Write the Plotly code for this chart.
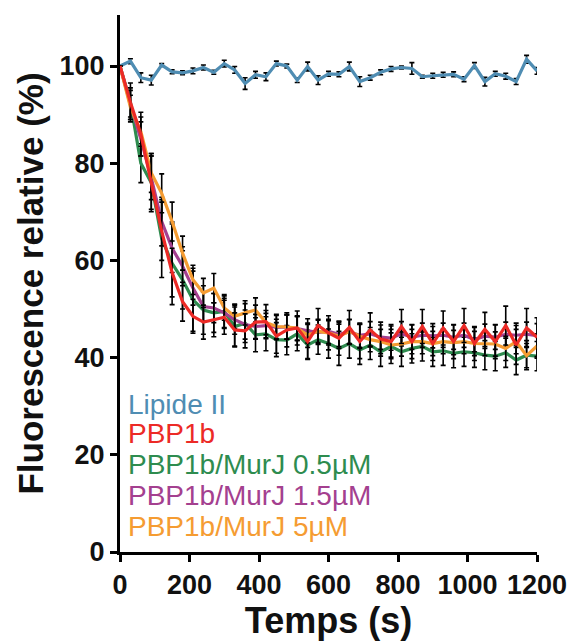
import plotly.graph_objects as go

# Time points (s)
temps = list(range(0, 1201, 30))

# Relative fluorescence (%) per condition
lipide_ii = [100.0, 101.0, 97.6, 97.1, 100.2, 98.8, 98.6, 99.0, 99.7, 98.7,
             100.5, 99.2, 96.4, 98.2, 97.8, 100.5, 100.0, 97.1, 99.9, 97.1,
             98.4, 98.3, 99.9, 96.8, 97.6, 98.7, 99.4, 99.7, 99.5, 97.8,
             98.0, 98.2, 98.3, 97.3, 100.1, 96.8, 98.4, 97.9, 96.8, 101.4, 99.0]
lipide_ii_err = [0, 0.5, 1.0, 1.0, 0.3, 0.4, 0.4, 0.6, 0.5, 0.4,
                 0.7, 0.7, 1.2, 0.7, 0.8, 0.5, 0.4, 0.5, 0.9, 0.9,
                 0.5, 0.5, 0.9, 1.0, 0.5, 0.5, 0.5, 0.3, 1.2, 0.3,
                 0.5, 0.5, 0.5, 0.5, 0.6, 0.9, 0.5, 0.6, 0.6, 0.8, 0.7]

pbp1b = [100.0, 92.5, 86.0, 76.0, 66.0, 57.5, 51.5, 48.5, 47.3, 47.8,
         48.3, 45.7, 45.5, 47.3, 47.4, 44.4, 45.7, 46.1, 43.3, 46.6,
         45.1, 44.0, 46.2, 43.3, 45.7, 43.8, 43.3, 46.4, 43.3, 46.4,
         42.9, 46.1, 43.3, 46.6, 42.9, 45.8, 43.3, 46.6, 42.6, 46.1, 44.2]
pbp1b_err = [0, 4.0, 4.5, 6.0, 6.0, 5.0, 4.0, 3.5, 3.5, 3.5,
             3.5, 3.5, 3.5, 3.5, 3.5, 3.5, 3.5, 3.5, 3.5, 3.5,
             3.5, 3.5, 3.5, 3.5, 3.5, 3.5, 3.5, 3.5, 3.5, 3.5,
             3.5, 3.5, 3.5, 3.5, 3.5, 3.5, 3.5, 4.0, 4.0, 4.0, 4.0]

murj_05 = [100.0, 92.5, 80.0, 76.0, 64.5, 59.4, 56.0, 51.9, 49.8, 49.2,
           49.5, 46.4, 47.1, 44.7, 44.9, 43.7, 43.6, 44.9, 42.6, 43.7,
           42.9, 41.9, 42.9, 41.6, 42.6, 41.2, 42.3, 41.2, 41.9, 42.3,
           41.2, 41.4, 40.9, 41.2, 41.0, 40.5, 40.3, 41.0, 39.5, 40.5, 40.3]
murj_05_err = [0, 3.0, 4.0, 5.5, 8.0, 8.5, 6.0, 6.5, 5.0, 4.0,
               3.5, 4.0, 4.0, 3.5, 3.5, 3.5, 3.0, 3.5, 3.0, 3.0,
               3.0, 3.5, 3.0, 3.0, 3.0, 3.0, 3.5, 3.0, 3.0, 3.0,
               3.0, 3.0, 3.0, 3.0, 3.0, 3.0, 3.0, 3.0, 3.0, 3.0, 3.0]

murj_15 = [100.0, 92.0, 85.0, 77.0, 68.0, 62.5, 58.8, 54.3, 50.5, 50.2,
           49.2, 47.8, 46.8, 46.4, 46.6, 46.2, 46.3, 46.0, 45.5, 45.2,
           45.4, 44.8, 45.3, 44.6, 44.9, 44.2, 44.0, 44.9, 44.2, 44.6,
           44.5, 44.6, 44.2, 44.6, 43.7, 44.4, 44.2, 44.8, 44.6, 44.8, 44.5]
murj_15_err = [0, 3.0, 3.5, 4.5, 5.0, 5.0, 4.0, 3.5, 3.0, 3.0,
               3.0, 3.0, 3.0, 2.5, 2.5, 2.5, 2.5, 2.5, 2.5, 2.5,
               2.5, 2.5, 2.5, 2.5, 2.5, 2.5, 2.5, 2.5, 2.5, 2.5,
               2.5, 2.5, 2.5, 2.5, 2.5, 2.5, 2.5, 2.5, 2.5, 2.5, 2.5]

murj_5 = [100.0, 91.5, 86.5, 78.0, 73.8, 68.0, 61.5, 56.0, 53.3, 54.3,
          50.2, 48.5, 49.2, 49.8, 47.2, 46.4, 46.3, 46.1, 44.6, 45.4,
          45.1, 44.4, 45.4, 44.4, 43.7, 43.3, 42.6, 42.8, 43.3, 43.3,
          42.9, 43.3, 43.1, 43.3, 42.9, 42.9, 42.8, 41.9, 43.3, 40.4, 42.4]
murj_5_err = [0, 2.5, 3.0, 4.0, 4.0, 4.0, 3.5, 3.0, 3.0, 3.0,
              2.5, 2.5, 2.5, 2.5, 2.5, 2.5, 2.5, 2.5, 2.5, 2.5,
              2.5, 2.5, 2.5, 2.5, 2.5, 2.5, 2.5, 2.5, 2.5, 2.5,
              2.5, 2.5, 2.5, 2.5, 2.5, 2.5, 2.5, 2.5, 2.5, 2.5, 2.5]

series = [
    ("Lipide II", lipide_ii, lipide_ii_err, "#4f8db3"),
    ("PBP1b/MurJ 0.5µM", murj_05, murj_05_err, "#2e8c4f"),
    ("PBP1b/MurJ 1.5µM", murj_15, murj_15_err, "#a4408f"),
    ("PBP1b/MurJ 5µM", murj_5, murj_5_err, "#f59c32"),
    ("PBP1b", pbp1b, pbp1b_err, "#ec2a26"),
]

# Legend text order (top to bottom)
legend_order = ["Lipide II", "PBP1b", "PBP1b/MurJ 0.5µM",
                "PBP1b/MurJ 1.5µM", "PBP1b/MurJ 5µM"]
legend_y = [30.4, 24.4, 18.0, 11.6, 5.3]

FONT = "Liberation Sans, Arial, sans-serif"

fig = go.Figure()
for name, vals, err, col in series:
    fig.add_trace(go.Scatter(
        x=temps, y=vals, name=name, mode="lines",
        line=dict(color=col, width=3.2),
        error_y=dict(type="data", array=err, visible=True,
                     color="black", thickness=1.6, width=2.5),
        cliponaxis=False, showlegend=False,
    ))

colors = {name: col for name, _, _, col in series}
for label, yv in zip(legend_order, legend_y):
    fig.add_annotation(
        x=18, y=yv, xref="x", yref="y", text=label, showarrow=False,
        xanchor="left", yanchor="middle",
        font=dict(family=FONT, size=28, color=colors[label]),
    )

axis_common = dict(
    showline=True, linecolor="black", linewidth=3,
    ticks="outside", ticklen=7, tickwidth=2.5, tickcolor="black",
    showgrid=False, zeroline=False, automargin=False,
    tickfont=dict(family=FONT, size=27, color="#111111", weight="bold"),
)

fig.update_xaxes(
    range=[0, 1200], tickvals=[0, 200, 400, 600, 800, 1000, 1200],
    title=dict(text="Temps (s)", standoff=6,
               font=dict(family=FONT, size=36, color="#111111", weight="bold")),
    **axis_common,
)
fig.update_yaxes(
    range=[0, 110.5], tickvals=[0, 20, 40, 60, 80, 100],
    title=dict(text="Fluorescence relative (%)", standoff=6,
               font=dict(family=FONT, size=35, color="#111111", weight="bold")),
    **axis_common,
)

fig.update_layout(
    width=569, height=644,
    margin=dict(l=120, r=32, t=15, b=92),
    paper_bgcolor="white", plot_bgcolor="white",
)

fig.write_html("out.html")
